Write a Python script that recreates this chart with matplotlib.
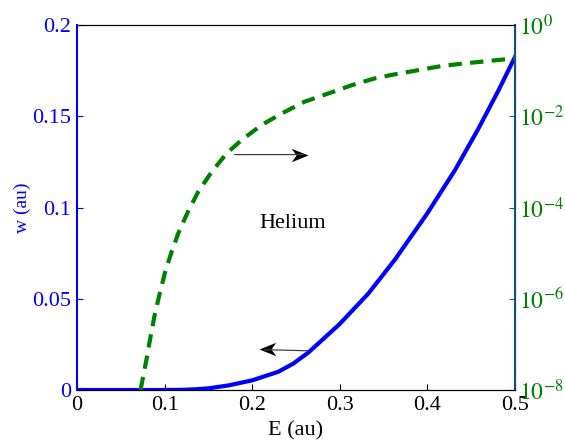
# ── Packages ──────────────────────────────────────────────────────────────────
import numpy as np
import matplotlib
matplotlib.use("Agg")
import matplotlib.pyplot as plt
from matplotlib.path import Path

plt.rcParams["font.family"] = ["Liberation Serif", "DejaVu Serif"]
plt.rcParams["mathtext.fontset"] = "stix"

# ── Data ──────────────────────────────────────────────────────────────────────
# w(E), left linear axis
E_w = [0.0, 0.10, 0.12, 0.135, 0.15, 0.1727, 0.20, 0.2298, 0.247, 0.264,
       0.2995, 0.3325, 0.363, 0.3995, 0.4315, 0.458, 0.481, 0.50]
w   = [0.0, 0.0, 0.0001, 0.0004, 0.0009, 0.0025, 0.0053, 0.0100, 0.0145,
       0.0205, 0.0360, 0.0528, 0.0715, 0.0965, 0.1205, 0.1430, 0.1640, 0.1825]

# rate on the right log axis (values as log10)
E_r   = [0.0725, 0.0795, 0.0833, 0.0883, 0.0936, 0.1005, 0.108, 0.1157,
         0.127, 0.1385, 0.1537, 0.171, 0.188, 0.2108, 0.2336, 0.260, 0.287,
         0.3136, 0.340, 0.363, 0.3896, 0.416, 0.443, 0.4695, 0.50]
log_r = [-8.0, -7.31, -6.90, -6.39, -5.95, -5.42, -4.97, -4.56,
         -4.08, -3.65, -3.22, -2.81, -2.52, -2.19, -1.94, -1.68, -1.50,
         -1.32, -1.17, -1.08, -0.99, -0.90, -0.84, -0.79, -0.73]

BLUE  = "#0000ff"
GREEN = "#008000"

# notched (MATLAB style) arrow heads, tip at the origin
HEAD_R = Path([(0, 0), (-1, 0.4), (-0.72, 0), (-1, -0.4), (0, 0)],
              [Path.MOVETO, Path.LINETO, Path.LINETO, Path.LINETO,
               Path.CLOSEPOLY])
HEAD_L = Path([(0, 0), (1, 0.4), (0.72, 0), (1, -0.4), (0, 0)],
              [Path.MOVETO, Path.LINETO, Path.LINETO, Path.LINETO,
               Path.CLOSEPOLY])

# ── Figure ────────────────────────────────────────────────────────────────────
fig = plt.figure(figsize=(5.65, 4.43), dpi=100)
ax = fig.add_axes([0.1363, 0.1196, 0.7752, 0.824])

ax.plot(E_w, w, color=BLUE, lw=3, solid_joinstyle="round")
ax.set_xlim(0, 0.5)
ax.set_ylim(0, 0.2)
ax.set_xticks([0, 0.1, 0.2, 0.3, 0.4, 0.5])
ax.set_xticklabels(["0", "0.1", "0.2", "0.3", "0.4", "0.5"])
ax.set_yticks([0, 0.05, 0.1, 0.15, 0.2])
ax.set_yticklabels(["0", "0.05", "0.1", "0.15", "0.2"])
ax.tick_params(axis="x", direction="in", labelsize=16, length=4, pad=4)
ax.tick_params(axis="y", direction="in", labelsize=16, length=4,
               colors=BLUE, pad=4)
ax.set_xlabel("E (au)", fontsize=16, labelpad=5)
ax.set_ylabel("w (au)", fontsize=14, color=BLUE, labelpad=1)
ax.spines["left"].set_color(BLUE)
ax.spines["left"].set_linewidth(1.5)

# arrows and label
line = dict(arrowstyle="-", color="0.25", lw=0.9, shrinkA=0, shrinkB=0)
ax.annotate("", xy=(0.258, 0.129), xytext=(0.180, 0.129), arrowprops=line)
ax.plot([0.264], [0.129], marker=HEAD_R, ms=24, color="black", mew=0)
ax.annotate("", xy=(0.214, 0.0221), xytext=(0.264, 0.0215), arrowprops=line)
ax.plot([0.208], [0.0222], marker=HEAD_L, ms=24, color="black", mew=0)
ax.text(0.246, 0.0913, "Helium", fontsize=16, ha="center", va="center")

# ── Right log axis ────────────────────────────────────────────────────────────
ax2 = ax.twinx()
ax2.plot(E_r, 10.0 ** np.array(log_r), color=GREEN, lw=3,
         linestyle=(0, (3.2, 2.0)))
ax2.set_yscale("log")
ax2.set_ylim(1e-8, 1e0)
ax2.set_xlim(0, 0.5)
ax2.set_yticks([1e-8, 1e-6, 1e-4, 1e-2, 1e0])
ax2.set_yticklabels([r"$10^{-8}$", r"$10^{-6}$", r"$10^{-4}$",
                     r"$10^{-2}$", r"$10^{0}$"])
ax2.minorticks_off()
ax2.tick_params(axis="y", direction="in", labelsize=17, length=4,
                colors=GREEN, pad=3)
ax2.spines["right"].set_color("#10507a")
ax2.spines["right"].set_linewidth(1.5)
ax2.spines["left"].set_visible(False)

fig.savefig("out.png", dpi=100)
